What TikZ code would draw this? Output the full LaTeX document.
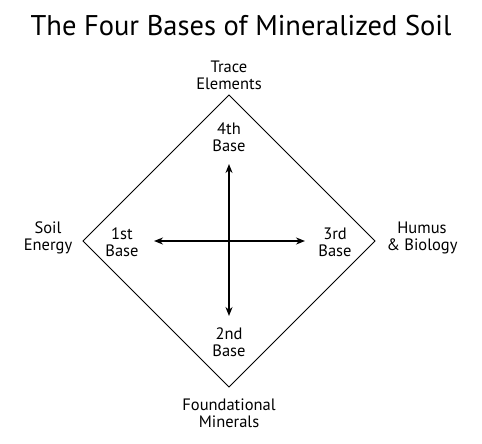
\documentclass[tikz,border=0pt]{standalone}
\usepackage{fontspec}
\setmainfont{PT Sans}
\usetikzlibrary{arrows.meta}
\begin{document}
\begin{tikzpicture}[x=1pt,y=-1pt,
  lbl/.style={align=center,font=\fontsize{16.5}{17}\selectfont,inner sep=0pt},
  arr/.style={line width=2.4pt,-{Stealth[length=9pt,width=7pt]}}]
\useasboundingbox (0,0) rectangle (482,444);
\node[font=\fontsize{28.5}{32}\selectfont,inner sep=0pt] (title) at (241,26) {The Four Bases of Mineralized Soil};
\coordinate (top) at (229,95);
\coordinate (bot) at (229,387);
\coordinate (lft) at (83,241);
\coordinate (rgt) at (375,241);
\draw[line width=0.8pt] (top) -- (rgt) -- (bot) -- (lft) -- cycle;
\coordinate (c) at (229,241);
\coordinate (ae) at (229,164);
\coordinate (as) at (229,316);
\coordinate (aw) at (154,241);
\coordinate (an) at (305,241);
\draw[arr] (c) -- (ae);
\draw[arr] (c) -- (as);
\draw[arr] (c) -- (aw);
\draw[arr] (c) -- (an);
\node[lbl] (trace) at (229,75) {Trace\\Elements};
\node[lbl] (b4) at (229,137) {4th\\Base};
\node[lbl] (soil) at (48,238) {Soil\\Energy};
\node[lbl] (b1) at (122,242) {1st\\Base};
\node[lbl] (b3) at (335,242) {3rd\\Base};
\node[lbl] (humus) at (422,238) {Humus\\\& Biology};
\node[lbl] (b2) at (229,342) {2nd\\Base};
\node[lbl] (found) at (229,413) {Foundational\\Minerals};
\end{tikzpicture}
\end{document}
